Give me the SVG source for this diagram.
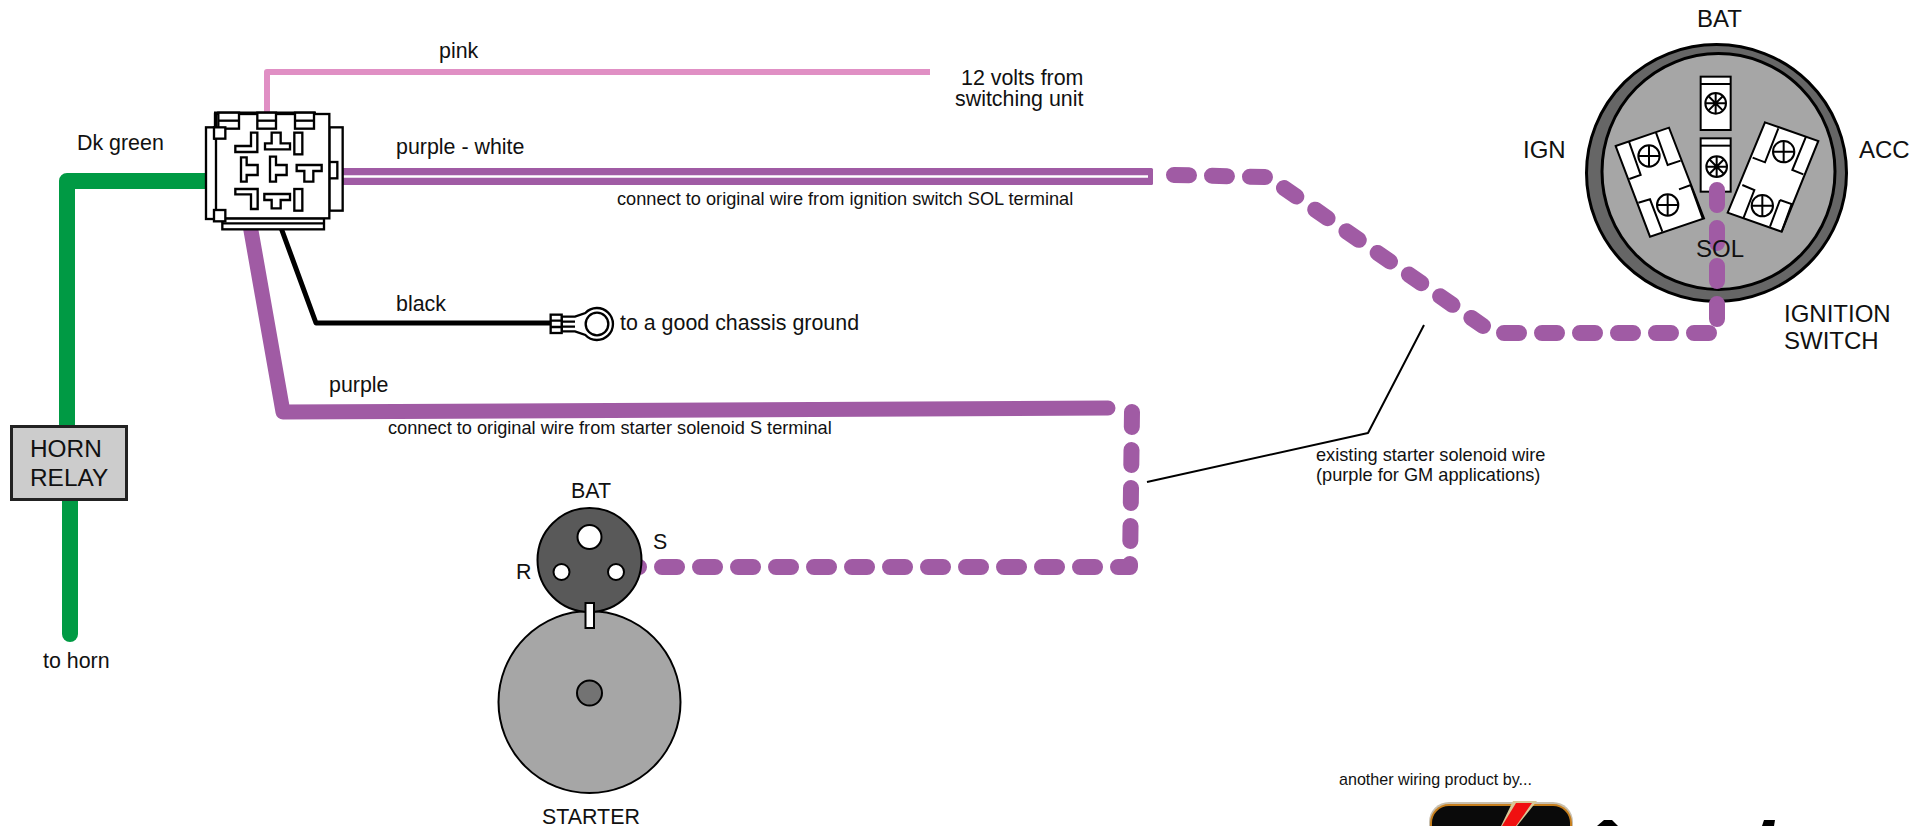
<svg xmlns="http://www.w3.org/2000/svg" width="1911" height="826" viewBox="0 0 1911 826">
<style>
text{font-family:"Liberation Sans",Arial,sans-serif;fill:#111}
.l{font-size:21.4px}.s{font-size:18.2px}.m{font-size:24px}
.w{fill:none;stroke-linejoin:round}
.p{stroke:#a05ba4}
.d{stroke:#a05ba4;stroke-width:16;stroke-linecap:round;stroke-linejoin:round;stroke-dasharray:15 23;fill:none}
.b{stroke:#000;stroke-width:7;fill:#fff}
.t{stroke:#000;stroke-width:6;fill:#fff}
.sc{stroke:#000;stroke-width:6;fill:none}
</style>
<rect width="1911" height="826" fill="#fff"/>
<g id="ignition-switch">
<ellipse cx="1716.5" cy="173" rx="130" ry="128.5" fill="#666" stroke="#000" stroke-width="3"/>
<ellipse cx="1718.5" cy="171.5" rx="116.5" ry="118" fill="#a6a6a6" stroke="#000" stroke-width="3"/>
<g transform="translate(1570 30) scale(.33333)">
<rect class="t" x="392" y="140" width="90" height="160"/><path class="sc" d="M392 162H482"/>
<rect class="t" x="392" y="325" width="90" height="160"/><path class="sc" d="M392 347H482"/>
<g class="sc"><circle cx="437" cy="220" r="31"/><path d="M437 189V251M406 220H468M415 198L459 242M459 198L415 242"/><circle cx="440" cy="410" r="31"/><path d="M440 379V441M409 410H471M418 388L462 432M462 388L418 432"/></g>
<polygon class="t" points="137,348 297,293 402,565 240,620"/>
<path class="sc" d="M177 335L212 435L178 447M258 308L293 405L332 392M205 518L240 508L277 605M327 478L362 465L398 565"/>
<g class="sc"><circle cx="237" cy="378" r="32"/><path d="M205 378H269M237 346V410"/><circle cx="293" cy="525" r="32"/><path d="M261 525H325M293 493V557"/></g>
<polygon class="t" points="585,277 745,333 635,605 473,548"/>
<path class="sc" d="M625 295L585 397L548 383M708 320L667 420L700 433M517 465L553 480L520 565M630 510L665 522L635 605M630 510L600 590"/>
<g class="sc"><circle cx="641" cy="365" r="32"/><path d="M609 365H673M641 333V397"/><circle cx="577" cy="527" r="32"/><path d="M545 527H609M577 495V559"/></g>
</g>
<text class="m" x="1697" y="27">BAT</text>
<text class="m" x="1523" y="158">IGN</text>
<text class="m" x="1859" y="158">ACC</text>
<text class="m" x="1784" y="322">IGNITION</text>
<text class="m" x="1784" y="349">SWITCH</text>
</g>
<g id="connectors">
<path class="w" d="M267 115V72H930" stroke="#e08fc4" stroke-width="6"/>
<path class="w" d="M210 181H67V430" stroke="#009a44" stroke-width="16"/>
<path class="w" d="M70 495V634" stroke="#009a44" stroke-width="16" stroke-linecap="round"/>
<rect x="340" y="168" width="813" height="17" rx="1.5" fill="#a05ba4"/>
<path d="M340 176.5H1148" stroke="#fff" stroke-width="2.5"/>
<path class="w p" d="M250 225L283 412L1108 408" stroke-width="15" stroke-linecap="round"/>
<path class="w" d="M280 225L316 323H556" stroke="#000" stroke-width="5"/>
<path class="d" d="M1174 175L1265 177"/>
<path class="d" d="M1284 188L1483 326"/>
<path class="d" d="M1504 333H1709"/>
<path class="d" d="M1717 319V190"/>
<path class="d" d="M1132 412L1130 567L623 567"/>
<path class="w" d="M1147 482L1368 433L1424 325" stroke="#000" stroke-width="2"/>
</g>
<text id="sol-label" class="m" x="1696" y="257">SOL</text>
<g id="horn-relay">
<rect x="11.5" y="426.5" width="115" height="73" fill="#ccc" stroke="#222" stroke-width="3"/>
<text x="30" y="457" style="font-size:24.4px">HORN</text>
<text x="30" y="486" style="font-size:24.4px">RELAY</text>
</g>
<g id="connector-block" transform="translate(190 90) scale(.33333)">
<rect class="b" x="48" y="112" width="32" height="275"/>
<rect class="b" x="418" y="112" width="40" height="250"/>
<rect class="b" x="418" y="216" width="24" height="49"/>
<rect class="b" x="97" y="385" width="305" height="33"/><path class="b" d="M97 400H402"/>
<rect class="b" x="78" y="72" width="340" height="313"/>
<path class="b" d="M72 68H378M75 68V150"/>
<g class="b"><rect x="85" y="68" width="62" height="48"/><path d="M85 92H147"/><rect x="202" y="68" width="56" height="48"/><path d="M202 92H258"/><rect x="315" y="68" width="57" height="48"/><path d="M315 92H372"/></g>
<rect class="b" x="72" y="112" width="34" height="34"/>
<rect class="b" x="72" y="360" width="34" height="34"/>
<polygon class="b" points="183,128 202,128 202,186 136,186 136,168 183,168"/>
<polygon class="b" points="245,128 272,128 272,160 300,160 300,178 225,178 225,160 245,160"/>
<rect class="b" x="313" y="128" width="24" height="65"/>
<polygon class="b" points="153,202 170,202 170,225 203,225 203,255 170,255 170,275 153,275"/>
<polygon class="b" points="240,200 258,200 258,225 290,225 290,255 258,255 258,275 240,275"/>
<polygon class="b" points="320,225 395,225 395,243 370,243 370,275 343,275 343,243 320,243"/>
<polygon class="b" points="136,297 203,297 203,357 183,357 183,313 136,313"/>
<polygon class="b" points="223,312 300,312 300,330 272,330 272,355 245,355 245,330 223,330"/>
<rect class="b" x="313" y="297" width="24" height="65"/>
</g>
<g id="ring-terminal" transform="translate(530 290) scale(.33333)">
<path class="b" d="M95 80H135L166 69A48 48 0 1 1 166 135L135 124H95Z"/>
<path class="b" d="M95 95H135M95 110H135"/>
<rect class="b" x="62" y="74" width="33" height="55"/>
<path class="b" d="M62 92H95M62 111H95"/>
<circle class="b" cx="201" cy="102" r="34"/>
</g>
<g id="starter">
<circle cx="589.5" cy="702" r="91" fill="#a6a6a6" stroke="#000" stroke-width="2"/>
<circle cx="589.5" cy="693" r="12.5" fill="#737373" stroke="#000" stroke-width="2"/>
<circle cx="589.5" cy="560" r="52" fill="#595959" stroke="#000" stroke-width="2"/>
<circle cx="589.5" cy="537" r="12" fill="#fff" stroke="#000" stroke-width="2"/>
<circle cx="561.5" cy="572" r="8" fill="#fff" stroke="#000" stroke-width="2"/>
<circle cx="616" cy="572" r="8" fill="#fff" stroke="#000" stroke-width="2"/>
<rect x="585.5" y="603" width="8.5" height="25" fill="#fff" stroke="#000" stroke-width="2"/>
<text class="l" x="571" y="498">BAT</text>
<text class="l" x="653" y="549">S</text>
<text class="l" x="516" y="579">R</text>
<text class="l" x="542" y="824">STARTER</text>
</g>
<g id="logo">
<rect x="1429" y="802" width="144" height="60" rx="20" fill="#c8c0b0"/>
<rect x="1430" y="804" width="142" height="60" rx="19" fill="#c77f1e"/>
<rect x="1432" y="806" width="138" height="60" rx="17" fill="#0a0a0a"/>
<polygon points="1513,801 1537,801 1517,826 1501,826" fill="#d8c898"/>
<polygon points="1516,803 1532,803 1516,826 1502,826" fill="#f01010"/>
<polygon points="1604,820 1612,820 1618,826 1597,826" fill="#000"/>
<polygon points="1764,820 1775,820 1774,826 1762,826" fill="#000"/>
</g>
<g id="labels">
<text class="l" x="439" y="58">pink</text>
<text class="l" x="961" y="85">12 volts from</text>
<text class="l" x="955" y="106">switching unit</text>
<text class="l" x="77" y="150">Dk green</text>
<text class="l" x="396" y="154">purple - white</text>
<text class="s" x="617" y="205">connect to original wire from ignition switch SOL terminal</text>
<text class="l" x="396" y="311">black</text>
<text class="l" x="620" y="330">to a good chassis ground</text>
<text class="l" x="329" y="392">purple</text>
<text class="s" x="388" y="434">connect to original wire from starter solenoid S terminal</text>
<text class="s" x="1316" y="461">existing starter solenoid wire</text>
<text class="s" x="1316" y="481">(purple for GM applications)</text>
<text class="l" x="43" y="668">to horn</text>
<text x="1339" y="785" style="font-size:16.1px">another wiring product by...</text>
</g>
</svg>
